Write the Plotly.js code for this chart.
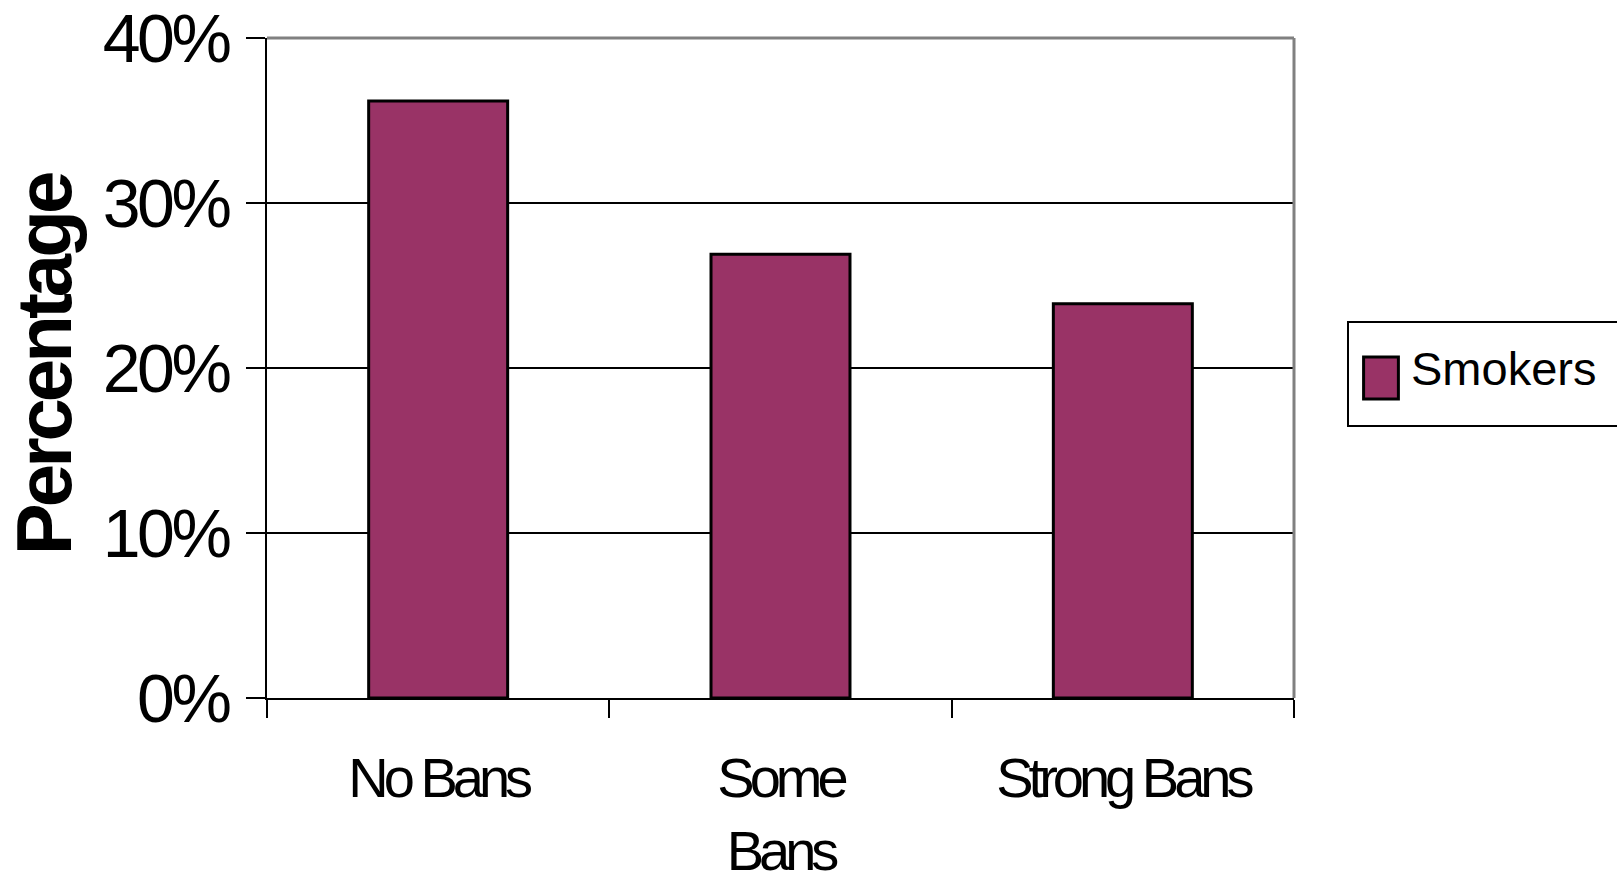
<!DOCTYPE html>
<html><head>
<meta charset="utf-8">
<script src="https://cdn.plot.ly/plotly-3.0.1.min.js"></script>
<style>
body{margin:0;background:#fff;overflow:hidden}
.xtick text{letter-spacing:-5px}
.ytick text{letter-spacing:-3.5px}
text.ytitle{letter-spacing:-4px; translate:0px -3px}
g.legendpoints path{transform:translate(32px,11px) scale(2.9,3.5); vector-effect:non-scaling-stroke; stroke-width:3px !important}
g.legend rect.bg{y:-6px; height:104px; width:320px}
</style>
</head><body>
<div id="chart" style="width:1617px;height:885px"></div>
<script>
const categories = ["No Bans", "Some Bans", "Strong Bans"];
const tickLabels = ["No Bans", "Some<br>Bans", "Strong Bans"];
const smokers = [36.2, 26.9, 23.9];
const yTickValues = [0, 10, 20, 30, 40];
const yTickLabels = ["0%", "10%", "20%", "30%", "40%"];
const seriesName = "Smokers";
const yTitle = "Percentage";

const FONT = "Liberation Sans, Arial, sans-serif";

const trace = {
  type: "bar",
  name: seriesName,
  x: categories,
  y: smokers,
  marker: {color: "#993366", line: {color: "#000000", width: 3}},
  showlegend: true
};

const layout = {
  width: 1617, height: 885,
  margin: {l: 267, r: 323, t: 38, b: 187, autoexpand: false},
  paper_bgcolor: "#ffffff", plot_bgcolor: "#ffffff",
  font: {family: FONT, color: "#000000"},
  bargap: 0.594,
  showlegend: true,
  legend: {
    x: 1.0516, xanchor: "left", y: 0.5606, yanchor: "top",
    bordercolor: "#000000", borderwidth: 2, bgcolor: "#ffffff",
    font: {family: FONT, size: 47, color: "#000000"},
    itemwidth: 52
  },
  xaxis: {
    type: "category",
    tickvals: categories, ticktext: tickLabels,
    tickson: "boundaries", ticks: "outside", ticklen: 18, tickwidth: 2, tickcolor: "#000",
    showline: true, linecolor: "#000", linewidth: 2,
    showgrid: false, zeroline: false,
    tickfont: {family: FONT, size: 56, color: "#000"},
    ticklabelstandoff: 30,
    automargin: false
  },
  yaxis: {
    range: [0, 40.02],
    tickvals: yTickValues, ticktext: yTickLabels,
    ticks: "outside", ticklen: 19, tickwidth: 2, tickcolor: "#000",
    showline: true, linecolor: "#000", linewidth: 2,
    showgrid: true, gridcolor: "#000", gridwidth: 2,
    zeroline: false,
    tickfont: {family: FONT, size: 68, color: "#000"},
    ticklabelstandoff: 4,
    title: {text: yTitle, font: {family: FONT, size: 78, color: "#000", weight: "bold"}, standoff: 20},
    automargin: false
  },
  shapes: [
    {type: "line", xref: "paper", yref: "paper", x0: 0, x1: 1, y0: 1, y1: 1, line: {color: "#808080", width: 3}, layer: "above"},
    {type: "line", xref: "paper", yref: "paper", x0: 1, x1: 1, y0: 0, y1: 1, line: {color: "#808080", width: 3}, layer: "above"}
  ]
};

Plotly.newPlot("chart", [trace], layout, {staticPlot: true, displayModeBar: false});
</script>
</body></html>
